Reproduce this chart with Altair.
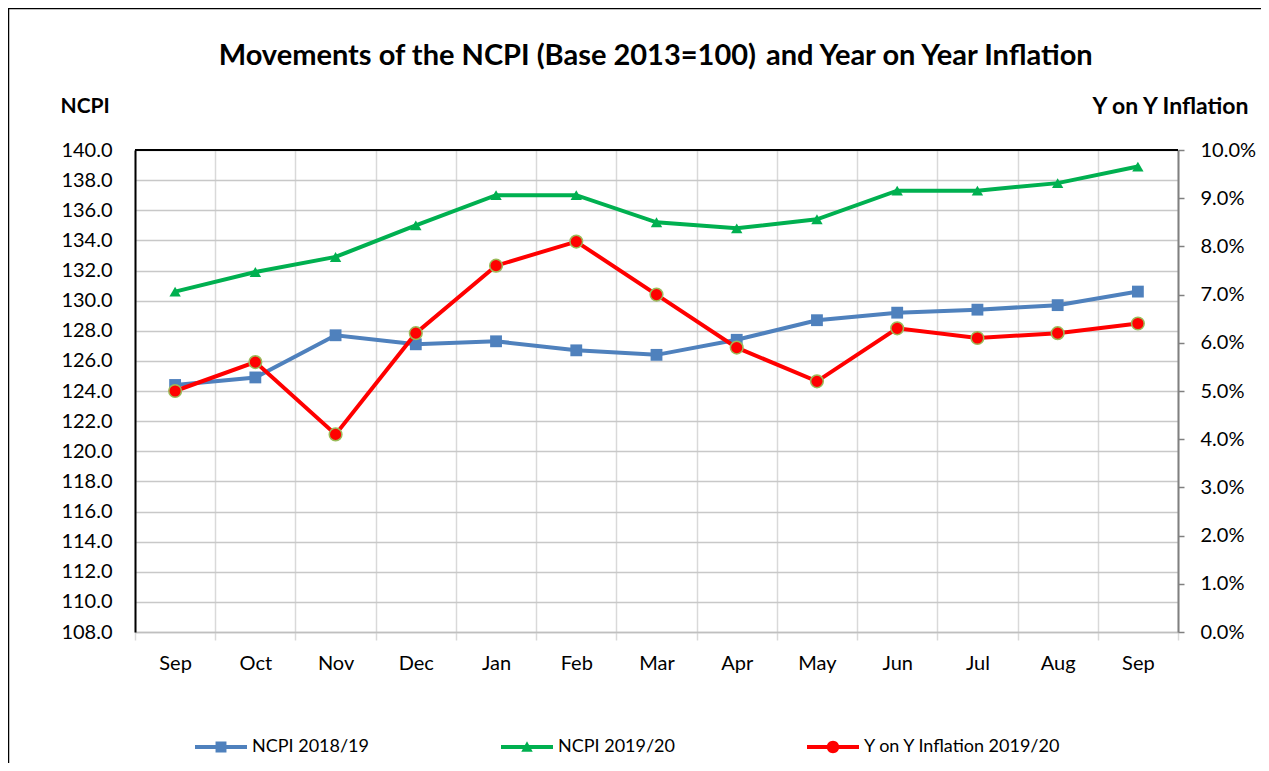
import altair as alt
import pandas as pd

# ---------------- data ----------------
periods = ["Sep-19", "Oct-19", "Nov-19", "Dec-19", "Jan-20", "Feb-20", "Mar-20",
           "Apr-20", "May-20", "Jun-20", "Jul-20", "Aug-20", "Sep-20"]
ncpi_2018_19 = [124.4, 124.9, 127.7, 127.1, 127.3, 126.7, 126.4, 127.4, 128.7, 129.2, 129.4, 129.7, 130.6]
ncpi_2019_20 = [130.6, 131.9, 132.9, 135.0, 137.0, 137.0, 135.2, 134.8, 135.4, 137.3, 137.3, 137.8, 138.9]
yoy_inflation_pct = [5.0, 5.6, 4.1, 6.2, 7.6, 8.1, 7.0, 5.9, 5.2, 6.3, 6.1, 6.2, 6.4]
series_names = ["NCPI 2018/19", "NCPI 2019/20", "Y on Y Inflation 2019/20"]
left_ticks = [108.0, 110.0, 112.0, 114.0, 116.0, 118.0, 120.0, 122.0, 124.0, 126.0,
              128.0, 130.0, 132.0, 134.0, 136.0, 138.0, 140.0]
right_ticks = [0.0, 0.01, 0.02, 0.03, 0.04, 0.05, 0.06, 0.07, 0.08, 0.09, 0.10]
title_parts = ["Movements of the NCPI (Base 2013=100)", "and Year on Year Inflation"]

# ---------------- styling ----------------
FONT = "Lato"
BLUE, GREEN, RED = "#4F81BD", "#00B050", "#FF0000"
W, H = 1043, 482

rows = []
for i, p in enumerate(periods):
    rows.append({"period": p, "series": series_names[0], "value": ncpi_2018_19[i]})
    rows.append({"period": p, "series": series_names[1], "value": ncpi_2019_20[i]})
    rows.append({"period": p, "series": series_names[2], "value": yoy_inflation_pct[i] / 100})
df = pd.DataFrame(rows)

x_enc = alt.X(
    "period:N", sort=periods,
    scale=alt.Scale(type="band", domain=periods, paddingInner=0, paddingOuter=0),
    axis=alt.Axis(title=None, tickBand="extent", grid=True, gridColor="#D9D9D9", gridWidth=1.5,
                  domainColor="#BFBFBF", domainWidth=1.5, tickColor="#D9D9D9", tickWidth=1.5,
                  tickSize=8, labelExpr="split(datum.label, '-')[0]", labelAngle=0,
                  labelFontSize=20, labelPadding=13, labelColor="black", labelFont=FONT),
)

y_left = alt.Y(
    "value:Q",
    scale=alt.Scale(domain=[108, 140], nice=False, zero=False),
    axis=alt.Axis(values=left_ticks, format=".1f", title="NCPI", titleAngle=0, titleAlign="left",
                  titleBaseline="middle", titleX=-75, titleY=-44, titleFontSize=21,
                  titleFontWeight="bold", titleFont=FONT, titleColor="black",
                  labelFontSize=20, labelColor="black", labelFont=FONT, labelPadding=23,
                  ticks=False, tickSize=0, domainColor="black", domainWidth=2,
                  grid=True, gridColor="#C8C8C8", gridWidth=1.5),
)

y_right = alt.Y(
    "value:Q",
    scale=alt.Scale(domain=[0, 0.1], nice=False),
    axis=alt.Axis(orient="right", values=right_ticks, format=".1%", title="Y on Y Inflation",
                  titleAngle=0, titleAlign="right", titleBaseline="middle", titleX=70, titleY=-44,
                  titleFontSize=23, titleFontWeight="bold", titleFont=FONT, titleColor="black",
                  labelFontSize=20, labelColor="black", labelFont=FONT, labelPadding=16,
                  grid=False, domainColor="#808080", domainWidth=2, tickColor="#808080",
                  tickSize=6, tickWidth=1.5),
)


def series_layers(name, color, shape, size, y, stroke=None, stroke_w=0):
    base = alt.Chart(df).transform_filter(alt.datum.series == name)
    line = base.mark_line(color=color, strokeWidth=4).encode(x=x_enc, y=y)
    pts = base.mark_point(shape=shape, size=size, filled=True, fill=color, opacity=1,
                          stroke=stroke if stroke else color, strokeWidth=stroke_w).encode(x=x_enc, y=y)
    return [line, pts]


# legend-only layer (no rows) carrying line+marker legend symbols
sq = "M-1,-0.075H1V0.075H-1Z M-0.21,-0.21H0.21V0.21H-0.21Z"
tri = "M-1,-0.075H1V0.075H-1Z M0,-0.22L0.22,0.18L-0.22,0.18Z"
circ = "M-1,-0.075H1V0.075H-1Z M-0.24,0A0.24,0.24 0 1,1 0.24,0A0.24,0.24 0 1,1 -0.24,0Z"
leg = alt.Legend(title=None, orient="none", direction="horizontal", legendX=60, legendY=571,
                 labelFontSize=18, labelFont=FONT, labelColor="black", labelOffset=5,
                 labelLimit=400, symbolOffset=0, symbolSize=2704, symbolStrokeWidth=0,
                 columnPadding=51, gridAlign="all", padding=0)
legend_layer = alt.Chart(df).transform_filter("false").mark_point(filled=True, opacity=1).encode(
    x=x_enc, y=y_left,
    color=alt.Color("series:N", scale=alt.Scale(domain=series_names, range=[BLUE, GREEN, RED]), legend=leg),
    shape=alt.Shape("series:N", scale=alt.Scale(domain=series_names, range=[sq, tri, circ]), legend=leg),
)

one = pd.DataFrame({"t": [0]})
frame = alt.Chart(one).mark_rect(fillOpacity=0, stroke="black", strokeWidth=1.5).encode(
    x=alt.value(-126.5), x2=alt.value(W + 120), y=alt.value(-141.5), y2=alt.value(H + 200))
top_line = alt.Chart(one).mark_rule(color="black", strokeWidth=2).encode(
    x=alt.value(0), x2=alt.value(W), y=alt.value(0))

tdf = pd.DataFrame({"part": title_parts, "idx": [0, 1]})
title1 = alt.Chart(tdf).transform_filter(alt.datum.idx == 0).mark_text(
    font=FONT, fontWeight="bold", fontSize=29, align="right", baseline="alphabetic", color="black"
).encode(x=alt.value(621), y=alt.value(-85), text="part:N")
title2 = alt.Chart(tdf).transform_filter(alt.datum.idx == 1).mark_text(
    font=FONT, fontWeight="bold", fontSize=29, align="left", baseline="alphabetic", color="black"
).encode(x=alt.value(631), y=alt.value(-85), text="part:N")

left = alt.layer(
    *series_layers(series_names[0], BLUE, "square", 140, y_left),
    *series_layers(series_names[1], GREEN, "triangle-up", 130, y_left),
    legend_layer,
)
right = alt.layer(
    *series_layers(series_names[2], RED, "circle", 160, y_right, stroke="#9BBB59", stroke_w=1.5),
)

chart = alt.layer(left, right, frame, top_line, title1, title2).resolve_scale(
    y="independent"
).properties(
    width=W, height=H,
    autosize=alt.AutoSizeParams(type="none"),
    padding={"left": 127, "top": 142, "right": 83, "bottom": 131},
).configure_view(stroke=None).configure(font=FONT)

chart.save("out.html", embed_options={"renderer": "svg", "actions": False})
